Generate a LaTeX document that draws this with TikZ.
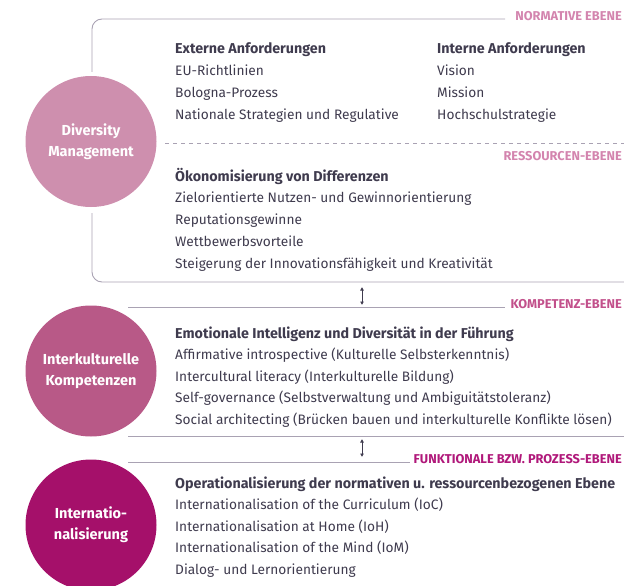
\documentclass[tikz,border=0pt]{standalone}
\usepackage{fontspec}
\setmainfont{Fira Sans}
\usepackage{xcolor}
\usetikzlibrary{arrows.meta,calc,positioning}
\definecolor{dmrose}{HTML}{CE8FAE}
\definecolor{ikrose}{HTML}{B85987}
\definecolor{inmagenta}{HTML}{A5106A}
\definecolor{lvlpink}{HTML}{D384AE}
\definecolor{lvlrose}{HTML}{C2508B}
\definecolor{lvlmagenta}{HTML}{B0187A}
\definecolor{rulegray}{HTML}{A9A2B3}
\definecolor{textgray}{HTML}{3F3B4E}
\newcommand{\headline}[1]{{\fontsize{14.3}{16}\selectfont\bfseries #1}}

\begin{document}
\begin{tikzpicture}[x=1pt,y=-1pt,
    rule/.style={rulegray, line width=0.9pt},
    level/.style={anchor=base east, inner sep=0pt, font=\fontsize{12.8}{13}\selectfont\bfseries},
    items/.style={anchor=base west, inner sep=0pt, text=textgray, font=\fontsize{13.7}{16}\selectfont},
    disc/.style={circle, minimum size=131pt, inner sep=0pt, text=white, align=center,
      font=\fontsize{14.5}{21}\selectfont\bfseries},
    updown/.style={{Latex[length=3.5pt,width=4pt]}-{Latex[length=3.5pt,width=4pt]}, textgray, line width=0.8pt}]
  \useasboundingbox (0,0) rectangle (624,586);
  % frame round the normative and resource level
  \draw[rule, rounded corners=10pt] (92,72) -- (92,19) -- (505,19);
  \draw[rule, rounded corners=10pt] (92,213) -- (92,282) -- (624,282);
  \draw[rule, dash pattern=on 4pt off 4pt] (165,143) -- (624,143);
  % rules of the lower levels
  \draw[rule] (128,307) -- (505,307);
  \draw[rule] (128,436) -- (624,436);
  \draw[rule] (128,462) -- (410,462);
  % level names
  \node[level, text=lvlpink] (normative) at (622,21) {NORMATIVE EBENE};
  \node[level, text=lvlpink] (ressourcen) at (622,160) {RESSOURCEN-EBENE};
  \node[level, text=lvlrose] (kompetenz) at (622,308) {KOMPETENZ-EBENE};
  \node[level, text=lvlmagenta] (prozess) at (622,463) {FUNKTIONALE BZW. PROZESS-EBENE};
  % the three circles
  \node[disc, fill=dmrose] (dm) at (91,141.5) {Diversity\\Management};
  \node[disc, fill=ikrose] (ik) at (91,371) {Interkulturelle\\Kompetenzen};
  \node[disc, fill=inmagenta] (in) at (91,525) {Internatio-\\nalisierung};
  % lists
  \foreach \txt [count=\i] in {\headline{Externe Anforderungen}, EU-Richtlinien, Bologna-Prozess,
      Nationale Strategien und Regulative}
    \node[items] (ext\i) at (175,{54+21.8*(\i-1)}) {\txt};
  \foreach \txt [count=\i] in {\headline{Interne Anforderungen}, Vision, Mission, Hochschulstrategie}
    \node[items] (int\i) at (437,{54+21.8*(\i-1)}) {\txt};
  \foreach \txt [count=\i] in {\headline{Ökonomisierung von Differenzen},
      Zielorientierte Nutzen- und Gewinnorientierung, Reputationsgewinne,
      Wettbewerbsvorteile, Steigerung der Innovationsfähigkeit und Kreativität}
    \node[items] (oek\i) at (175,{181+21.8*(\i-1)}) {\txt};
  \foreach \txt [count=\i] in {\headline{Emotionale Intelligenz und Diversität in der Führung},
      Affirmative introspective (Kulturelle Selbsterkenntnis),
      Intercultural literacy (Interkulturelle Bildung),
      Self-governance (Selbstverwaltung und Ambiguitätstoleranz),
      Social architecting (Brücken bauen und interkulturelle Konflikte lösen)}
    \node[items] (emo\i) at (175,{338+21.6*(\i-1)}) {\txt};
  \foreach \txt [count=\i] in {\headline{Operationalisierung der normativen u. ressourcenbezogenen Ebene},
      Internationalisation of the Curriculum (IoC),
      Internationalisation at Home (IoH),
      Internationalisation of the Mind (IoM),
      Dialog- und Lernorientierung}
    \node[items] (op\i) at (175,{488+21.5*(\i-1)}) {\txt};
  % arrows between the levels
  \coordinate (up1) at (362,287);
  \coordinate (down1) at (362,305);
  \coordinate (up2) at (362,439);
  \coordinate (down2) at (362,457);
  \draw[updown] (up1) -- (down1);
  \draw[updown] (up2) -- (down2);
\end{tikzpicture}
\end{document}
